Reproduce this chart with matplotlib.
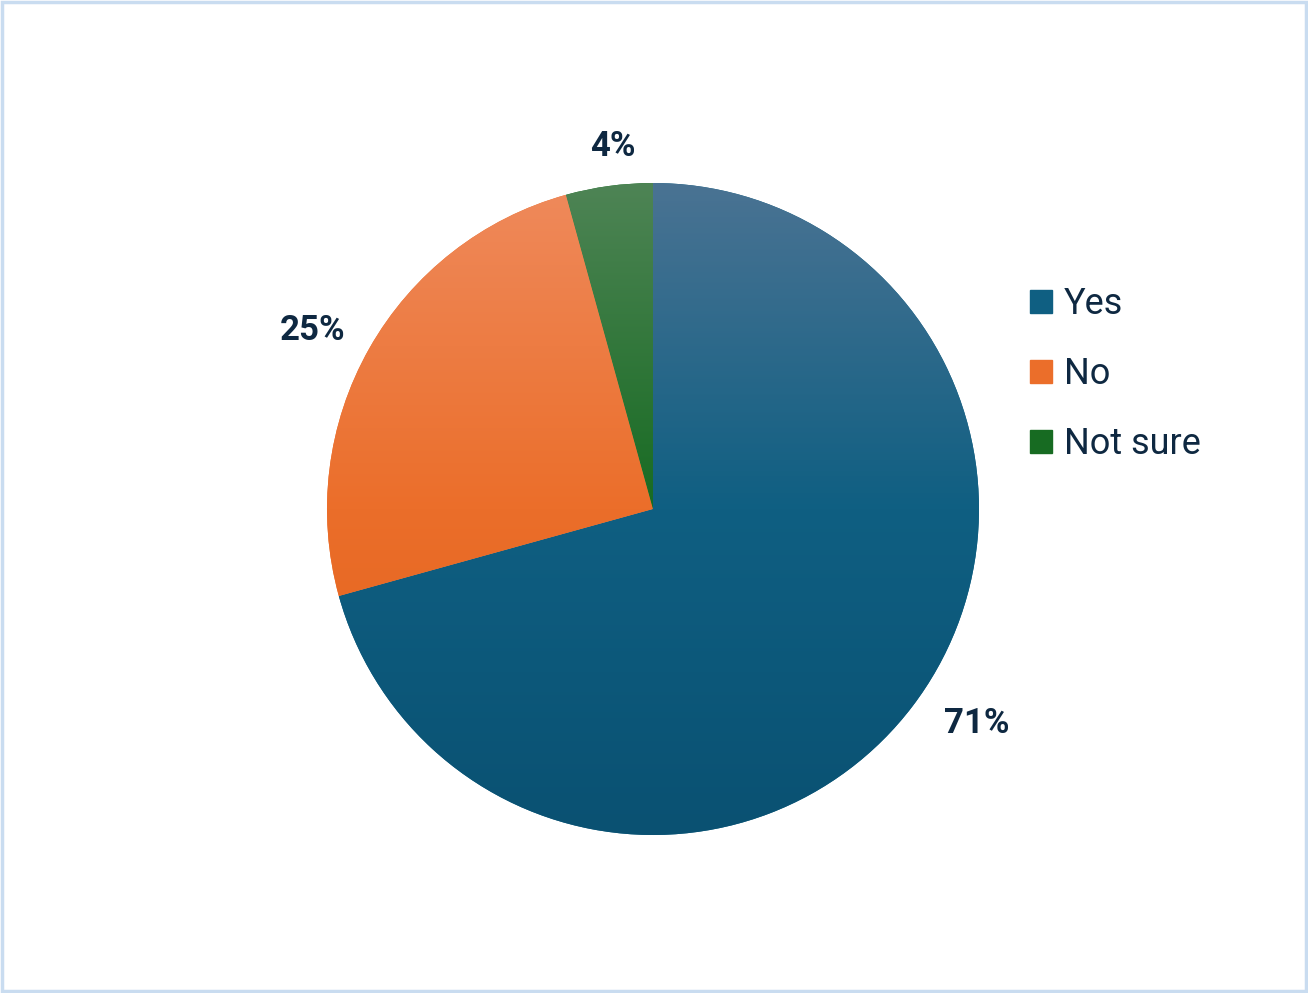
import numpy as np
import matplotlib
matplotlib.use("Agg")
from matplotlib import pyplot as plt
from matplotlib.colors import LinearSegmentedColormap
from matplotlib.patches import Rectangle

# data
labels = ["Yes", "No", "Not sure"]
shares = [70.7, 25.0, 4.3]
pct_text = ["71%", "25%", "4%"]
top_colors = ["#4A7393", "#EF8A5C", "#4E8455"]
base_colors = ["#0F5F82", "#EB6E2A", "#176B22"]
bottom_colors = ["#0A5172", "#E05E18", "#10661C"]
text_color = "#0E2841"

plt.rcParams["font.family"] = ["Roboto", "DejaVu Sans"]

fig = plt.figure(figsize=(13.08, 9.93), dpi=100)
fig.patch.set_facecolor("white")

# pie axes: center (653,509) px, radius 326 px
R = 326
half = 1.25 * R
cx, cy = 653, 993 - 509
ax = fig.add_axes([(cx - half) / 1308, (cy - half) / 993, 2 * half / 1308, 2 * half / 993])

wedges, _ = ax.pie(shares, startangle=90, counterclock=False, colors=base_colors,
                   wedgeprops=dict(linewidth=0))
ax.set_xlim(-1.25, 1.25)
ax.set_ylim(-1.25, 1.25)
ax.set_aspect("equal")
ax.axis("off")

# vertical gradient fill per slice (light top, solid from the middle down)
grad = np.linspace(0, 1, 256).reshape(-1, 1)
for w, c0, c1, c2 in zip(wedges, top_colors, base_colors, bottom_colors):
    cmap = LinearSegmentedColormap.from_list("g", [(0, c0), (0.5, c1), (1, c2)])
    im = ax.imshow(grad, cmap=cmap, extent=(-1, 1, -1, 1), aspect="auto",
                   origin="upper", zorder=2)
    im.set_clip_path(w)

# percentage labels outside slices
dists = [1.19, 1.18, 1.12]
nudge = [3.7, 1.8, -1.5]
start = 90.0
for s, t, d, n in zip(shares, pct_text, dists, nudge):
    mid = np.deg2rad(start - s * 3.6 / 2 + n)
    start -= s * 3.6
    ax.text(d * np.cos(mid), d * np.sin(mid), t, ha="center", va="center",
            fontsize=25, fontweight="bold", color=text_color, zorder=3)

handles = [Rectangle((0, 0), 1, 1, color=c) for c in base_colors]
fig.legend(handles, labels, loc="upper left", bbox_to_anchor=(1030 / 1308, 1 - 286 / 993),
           frameon=False, fontsize=26, labelcolor=text_color, handlelength=0.6,
           handleheight=0.6, handletextpad=0.33, labelspacing=0.94, borderaxespad=0,
           borderpad=0)

# outer border
fig.add_artist(Rectangle((0.0015, 0.002), 0.997, 0.996, transform=fig.transFigure,
                         fill=False, edgecolor="#C9DCF0", linewidth=2.5))

fig.savefig("out.png", dpi=100)
